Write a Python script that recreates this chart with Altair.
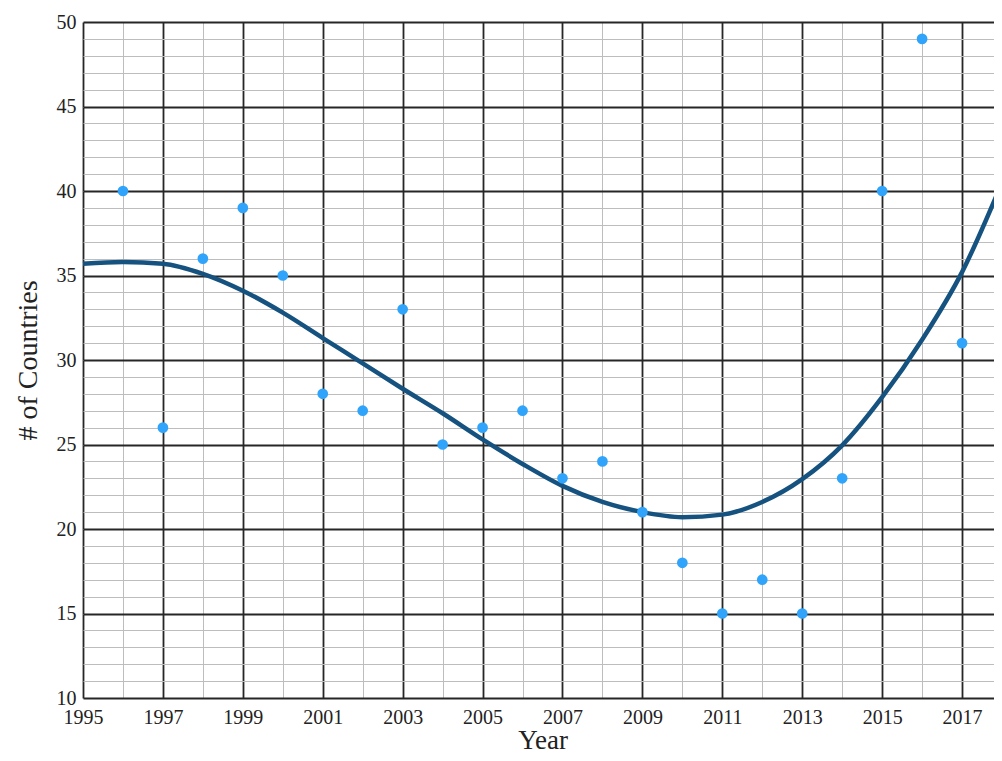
import altair as alt
import pandas as pd

# Observed points
point_years = [1996, 1997, 1998, 1999, 2000, 2001, 2002, 2003, 2004, 2005, 2006, 2007,
               2008, 2009, 2010, 2011, 2012, 2013, 2014, 2015, 2016, 2017, 2018]
point_values = [40, 26, 36, 39, 35, 28, 27, 33, 25, 26, 27, 23,
                24, 21, 18, 15, 17, 15, 23, 40, 49, 31, 31]

# Smoothed trend curve
curve_years = list(range(1995, 2019))
curve_values = [35.7, 35.8, 35.7, 35.1, 34.1, 32.8, 31.3, 29.8, 28.3, 26.85, 25.3, 23.85,
                22.55, 21.6, 21.0, 20.7, 20.85, 21.6, 22.95, 24.95, 27.8, 31.2, 35.2, 40.5]

x_major = list(range(1995, 2018, 2))
x_minor = list(range(1995, 2019))
y_major = list(range(10, 51, 5))
y_minor = list(range(10, 51))

pts = pd.DataFrame({"Year": point_years, "Count": point_values})
crv = pd.DataFrame({"Year": curve_years, "Count": curve_values})

FONT = "Liberation Serif"
xs = alt.Scale(domain=[1995, 2018], nice=False, zero=False)
ys = alt.Scale(domain=[10, 50], nice=False, zero=False)

minor_x_axis = alt.Axis(orient="bottom", values=x_minor, labels=False, ticks=False,
                        domain=False, grid=True, gridColor="#bdbdbd", gridWidth=1,
                        title=None)
minor_y_axis = alt.Axis(orient="left", values=y_minor, labels=False, ticks=False,
                        domain=False, grid=True, gridColor="#bdbdbd", gridWidth=1,
                        title=None)

major_x_axis = alt.Axis(orient="bottom", values=x_major, format="d", ticks=False,
                        domain=False, grid=True, gridColor="#262626", gridWidth=1.8,
                        labelFont=FONT, labelFontSize=20, labelColor="#222",
                        labelPadding=9, labelFlush=False,
                        title="Year", titleFont=FONT, titleFontSize=27,
                        titleFontWeight="normal", titleColor="#222",
                        titleBaseline="alphabetic", titleY=50)
major_y_axis = alt.Axis(orient="left", values=y_major, ticks=False,
                        domain=False, grid=True, gridColor="#262626", gridWidth=1.8,
                        labelFont=FONT, labelFontSize=20, labelColor="#222",
                        labelPadding=7, labelFlush=False,
                        title="# of Countries", titleFont=FONT, titleFontSize=28,
                        titleFontWeight="normal", titleColor="#222", titlePadding=14)

line = alt.Chart(crv).mark_line(color="#15527f", strokeWidth=4.5,
                                interpolate="monotone").encode(
    x=alt.X("Year:Q", scale=xs, axis=minor_x_axis),
    y=alt.Y("Count:Q", scale=ys, axis=minor_y_axis),
)

points = alt.Chart(pts).mark_circle(size=115, color="#30a4fb", opacity=1).encode(
    x=alt.X("Year:Q", scale=xs, axis=major_x_axis),
    y=alt.Y("Count:Q", scale=ys, axis=major_y_axis),
)

chart = alt.layer(line, points).resolve_axis(x="independent", y="independent").properties(
    width=919,
    height=676,
    autosize=alt.AutoSizeParams(type="none"),
    padding={"left": 75, "top": 14, "right": -8, "bottom": 55},
).configure_view(stroke=None).configure(background="white")

chart.save("out.html", embed_options={"renderer": "svg", "actions": False})
